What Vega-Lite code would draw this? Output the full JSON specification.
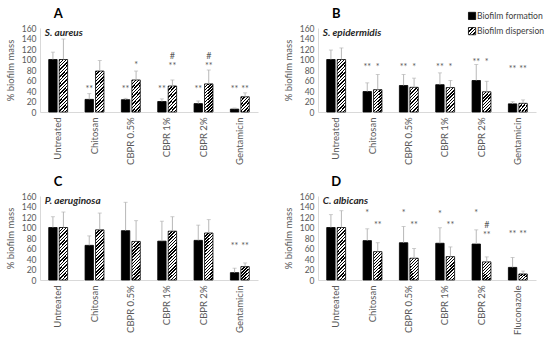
{
  "$schema": "https://vega.github.io/schema/vega-lite/v6.json",
  "padding": {"top": 6, "left": 5, "right": 5, "bottom": 2},
  "config": {
    "font": "Lato",
    "view": {"stroke": null},
    "header": {"labelPadding": 0, "titlePadding": 0},
    "axis": {"ticks": false, "grid": false, "domainColor": "#d9d9d9", "labelColor": "#595959", "titleColor": "#595959", "labelFont": "Lato", "titleFont": "Lato", "titleFontWeight": "normal"},
    "axisY": {"tickCount": 9, "labelOverlap": false}
  },
  "data": {"values": [
    {"kind": "bar", "panel": "A", "treatment": "Untreated", "series": "Biofilm formation", "mean": 100, "sd": 14},
    {"kind": "bar", "panel": "A", "treatment": "Untreated", "series": "Biofilm dispersion", "mean": 100, "sd": 39},
    {"kind": "bar", "panel": "A", "treatment": "Chitosan", "series": "Biofilm formation", "mean": 24, "sd": 11},
    {"kind": "bar", "panel": "A", "treatment": "Chitosan", "series": "Biofilm dispersion", "mean": 78, "sd": 20},
    {"kind": "bar", "panel": "A", "treatment": "CBPR 0.5%", "series": "Biofilm formation", "mean": 23.5, "sd": 2.5},
    {"kind": "bar", "panel": "A", "treatment": "CBPR 0.5%", "series": "Biofilm dispersion", "mean": 61, "sd": 17},
    {"kind": "bar", "panel": "A", "treatment": "CBPR 1%", "series": "Biofilm formation", "mean": 20, "sd": 5},
    {"kind": "bar", "panel": "A", "treatment": "CBPR 1%", "series": "Biofilm dispersion", "mean": 49.5, "sd": 11.5},
    {"kind": "bar", "panel": "A", "treatment": "CBPR 2%", "series": "Biofilm formation", "mean": 16, "sd": 5},
    {"kind": "bar", "panel": "A", "treatment": "CBPR 2%", "series": "Biofilm dispersion", "mean": 53.5, "sd": 26.5},
    {"kind": "bar", "panel": "A", "treatment": "Gentamicin", "series": "Biofilm formation", "mean": 5.5, "sd": 2},
    {"kind": "bar", "panel": "A", "treatment": "Gentamicin", "series": "Biofilm dispersion", "mean": 29, "sd": 7.5},
    {"kind": "bar", "panel": "B", "treatment": "Untreated", "series": "Biofilm formation", "mean": 100, "sd": 18},
    {"kind": "bar", "panel": "B", "treatment": "Untreated", "series": "Biofilm dispersion", "mean": 100, "sd": 22},
    {"kind": "bar", "panel": "B", "treatment": "Chitosan", "series": "Biofilm formation", "mean": 39, "sd": 16.5},
    {"kind": "bar", "panel": "B", "treatment": "Chitosan", "series": "Biofilm dispersion", "mean": 42.5, "sd": 29},
    {"kind": "bar", "panel": "B", "treatment": "CBPR 0.5%", "series": "Biofilm formation", "mean": 50.5, "sd": 21},
    {"kind": "bar", "panel": "B", "treatment": "CBPR 0.5%", "series": "Biofilm dispersion", "mean": 47, "sd": 17.5},
    {"kind": "bar", "panel": "B", "treatment": "CBPR 1%", "series": "Biofilm formation", "mean": 52, "sd": 22.5},
    {"kind": "bar", "panel": "B", "treatment": "CBPR 1%", "series": "Biofilm dispersion", "mean": 46.5, "sd": 13.5},
    {"kind": "bar", "panel": "B", "treatment": "CBPR 2%", "series": "Biofilm formation", "mean": 60, "sd": 30.5},
    {"kind": "bar", "panel": "B", "treatment": "CBPR 2%", "series": "Biofilm dispersion", "mean": 38.5, "sd": 20},
    {"kind": "bar", "panel": "B", "treatment": "Gentamicin", "series": "Biofilm formation", "mean": 15.5, "sd": 4},
    {"kind": "bar", "panel": "B", "treatment": "Gentamicin", "series": "Biofilm dispersion", "mean": 16.5, "sd": 6.5},
    {"kind": "bar", "panel": "C", "treatment": "Untreated", "series": "Biofilm formation", "mean": 100, "sd": 20.5},
    {"kind": "bar", "panel": "C", "treatment": "Untreated", "series": "Biofilm dispersion", "mean": 100, "sd": 29.5},
    {"kind": "bar", "panel": "C", "treatment": "Chitosan", "series": "Biofilm formation", "mean": 66, "sd": 18},
    {"kind": "bar", "panel": "C", "treatment": "Chitosan", "series": "Biofilm dispersion", "mean": 95.5, "sd": 32},
    {"kind": "bar", "panel": "C", "treatment": "CBPR 0.5%", "series": "Biofilm formation", "mean": 94, "sd": 54},
    {"kind": "bar", "panel": "C", "treatment": "CBPR 0.5%", "series": "Biofilm dispersion", "mean": 73.5, "sd": 39.5},
    {"kind": "bar", "panel": "C", "treatment": "CBPR 1%", "series": "Biofilm formation", "mean": 74, "sd": 38},
    {"kind": "bar", "panel": "C", "treatment": "CBPR 1%", "series": "Biofilm dispersion", "mean": 93, "sd": 27.5},
    {"kind": "bar", "panel": "C", "treatment": "CBPR 2%", "series": "Biofilm formation", "mean": 75.5, "sd": 29},
    {"kind": "bar", "panel": "C", "treatment": "CBPR 2%", "series": "Biofilm dispersion", "mean": 89.5, "sd": 25.5},
    {"kind": "bar", "panel": "C", "treatment": "Gentamicin", "series": "Biofilm formation", "mean": 14, "sd": 8.5},
    {"kind": "bar", "panel": "C", "treatment": "Gentamicin", "series": "Biofilm dispersion", "mean": 25.5, "sd": 7},
    {"kind": "bar", "panel": "D", "treatment": "Untreated", "series": "Biofilm formation", "mean": 100, "sd": 24.5},
    {"kind": "bar", "panel": "D", "treatment": "Untreated", "series": "Biofilm dispersion", "mean": 100, "sd": 32},
    {"kind": "bar", "panel": "D", "treatment": "Chitosan", "series": "Biofilm formation", "mean": 75, "sd": 22.5},
    {"kind": "bar", "panel": "D", "treatment": "Chitosan", "series": "Biofilm dispersion", "mean": 54, "sd": 17},
    {"kind": "bar", "panel": "D", "treatment": "CBPR 0.5%", "series": "Biofilm formation", "mean": 71, "sd": 31},
    {"kind": "bar", "panel": "D", "treatment": "CBPR 0.5%", "series": "Biofilm dispersion", "mean": 41.5, "sd": 18.5},
    {"kind": "bar", "panel": "D", "treatment": "CBPR 1%", "series": "Biofilm formation", "mean": 70, "sd": 29.5},
    {"kind": "bar", "panel": "D", "treatment": "CBPR 1%", "series": "Biofilm dispersion", "mean": 44.5, "sd": 18.5},
    {"kind": "bar", "panel": "D", "treatment": "CBPR 2%", "series": "Biofilm formation", "mean": 68.5, "sd": 27},
    {"kind": "bar", "panel": "D", "treatment": "CBPR 2%", "series": "Biofilm dispersion", "mean": 34.5, "sd": 9.5},
    {"kind": "bar", "panel": "D", "treatment": "Fluconazole", "series": "Biofilm formation", "mean": 24, "sd": 19},
    {"kind": "bar", "panel": "D", "treatment": "Fluconazole", "series": "Biofilm dispersion", "mean": 11.5, "sd": 5.5},
    {"kind": "note", "panel": "A", "treatment": "Chitosan", "series": "Biofilm formation", "label": "**", "at": 48},
    {"kind": "note", "panel": "A", "treatment": "CBPR 0.5%", "series": "Biofilm formation", "label": "**", "at": 48},
    {"kind": "note", "panel": "A", "treatment": "CBPR 0.5%", "series": "Biofilm dispersion", "label": "*", "at": 93},
    {"kind": "note", "panel": "A", "treatment": "CBPR 1%", "series": "Biofilm formation", "label": "**", "at": 48},
    {"kind": "note", "panel": "A", "treatment": "CBPR 1%", "series": "Biofilm dispersion", "label": "**", "at": 92},
    {"kind": "note", "panel": "A", "treatment": "CBPR 1%", "series": "Biofilm dispersion", "label": "#", "at": 111},
    {"kind": "note", "panel": "A", "treatment": "CBPR 2%", "series": "Biofilm formation", "label": "**", "at": 48},
    {"kind": "note", "panel": "A", "treatment": "CBPR 2%", "series": "Biofilm dispersion", "label": "**", "at": 92},
    {"kind": "note", "panel": "A", "treatment": "CBPR 2%", "series": "Biofilm dispersion", "label": "#", "at": 111},
    {"kind": "note", "panel": "A", "treatment": "Gentamicin", "series": "Biofilm formation", "label": "**", "at": 48},
    {"kind": "note", "panel": "A", "treatment": "Gentamicin", "series": "Biofilm dispersion", "label": "**", "at": 48},
    {"kind": "note", "panel": "B", "treatment": "Chitosan", "series": "Biofilm formation", "label": "**", "at": 90},
    {"kind": "note", "panel": "B", "treatment": "Chitosan", "series": "Biofilm dispersion", "label": "*", "at": 90},
    {"kind": "note", "panel": "B", "treatment": "CBPR 0.5%", "series": "Biofilm formation", "label": "**", "at": 90},
    {"kind": "note", "panel": "B", "treatment": "CBPR 0.5%", "series": "Biofilm dispersion", "label": "*", "at": 90},
    {"kind": "note", "panel": "B", "treatment": "CBPR 1%", "series": "Biofilm formation", "label": "**", "at": 90},
    {"kind": "note", "panel": "B", "treatment": "CBPR 1%", "series": "Biofilm dispersion", "label": "*", "at": 90},
    {"kind": "note", "panel": "B", "treatment": "CBPR 2%", "series": "Biofilm formation", "label": "**", "at": 99},
    {"kind": "note", "panel": "B", "treatment": "CBPR 2%", "series": "Biofilm dispersion", "label": "*", "at": 99},
    {"kind": "note", "panel": "B", "treatment": "Gentamicin", "series": "Biofilm formation", "label": "**", "at": 85},
    {"kind": "note", "panel": "B", "treatment": "Gentamicin", "series": "Biofilm dispersion", "label": "**", "at": 85},
    {"kind": "note", "panel": "C", "treatment": "Gentamicin", "series": "Biofilm formation", "label": "**", "at": 69},
    {"kind": "note", "panel": "C", "treatment": "Gentamicin", "series": "Biofilm dispersion", "label": "**", "at": 69},
    {"kind": "note", "panel": "D", "treatment": "Chitosan", "series": "Biofilm formation", "label": "*", "at": 132},
    {"kind": "note", "panel": "D", "treatment": "Chitosan", "series": "Biofilm dispersion", "label": "**", "at": 108},
    {"kind": "note", "panel": "D", "treatment": "CBPR 0.5%", "series": "Biofilm formation", "label": "*", "at": 131},
    {"kind": "note", "panel": "D", "treatment": "CBPR 0.5%", "series": "Biofilm dispersion", "label": "**", "at": 108},
    {"kind": "note", "panel": "D", "treatment": "CBPR 1%", "series": "Biofilm formation", "label": "*", "at": 130},
    {"kind": "note", "panel": "D", "treatment": "CBPR 1%", "series": "Biofilm dispersion", "label": "**", "at": 108},
    {"kind": "note", "panel": "D", "treatment": "CBPR 2%", "series": "Biofilm formation", "label": "*", "at": 131},
    {"kind": "note", "panel": "D", "treatment": "CBPR 2%", "series": "Biofilm dispersion", "label": "#", "at": 109},
    {"kind": "note", "panel": "D", "treatment": "CBPR 2%", "series": "Biofilm dispersion", "label": "**", "at": 90},
    {"kind": "note", "panel": "D", "treatment": "Fluconazole", "series": "Biofilm formation", "label": "**", "at": 91},
    {"kind": "note", "panel": "D", "treatment": "Fluconazole", "series": "Biofilm dispersion", "label": "**", "at": 91},
    {"kind": "species", "panel": "A", "treatment": "Untreated", "text": "S. aureus"},
    {"kind": "species", "panel": "B", "treatment": "Untreated", "text": "S. epidermidis"},
    {"kind": "species", "panel": "C", "treatment": "Untreated", "text": "P. aeruginosa"},
    {"kind": "species", "panel": "D", "treatment": "Untreated", "text": "C. albicans"},
    {"kind": "letter", "panel": "A", "treatment": "Untreated", "text": "A"},
    {"kind": "letter", "panel": "B", "treatment": "Untreated", "text": "B"},
    {"kind": "letter", "panel": "C", "treatment": "Untreated", "text": "C"},
    {"kind": "letter", "panel": "D", "treatment": "Untreated", "text": "D"},
    {"kind": "key", "panel": "B", "treatment": "CBPR 2%", "series": "Biofilm formation"},
    {"kind": "key", "panel": "B", "treatment": "CBPR 2%", "series": "Biofilm dispersion"}
  ]},
  "facet": {"field": "panel", "type": "nominal", "header": {"title": null, "labelExpr": "''", "labelFontSize": 1, "labelPadding": 0, "labelColor": "transparent"}},
  "columns": 2,
  "spacing": {"row": 9, "column": 25},
  "resolve": {"scale": {"x": "independent", "xOffset": "independent"}, "axis": {"x": "independent", "y": "independent"}},
  "spec": {
    "width": 218,
    "height": 84,
    "layer": [
      {
        "transform": [{"filter": "datum.kind === 'bar'"}],
        "mark": {"type": "bar", "stroke": "#000000", "strokeWidth": 0.8},
        "encoding": {
          "x": {"field": "treatment", "type": "nominal", "sort": null, "scale": {"paddingInner": 0.48, "paddingOuter": 0.24}, "axis": {"title": null, "labelAngle": -90, "labelFontSize": 9.5, "labelPadding": 5}},
          "xOffset": {"field": "series", "type": "nominal", "sort": null, "scale": {"paddingInner": 0.2, "paddingOuter": 0}},
          "y": {"field": "mean", "type": "quantitative", "scale": {"domain": [0, 160], "nice": false}, "axis": {"values": [0, 20, 40, 60, 80, 100, 120, 140, 160], "tickCount": 9, "labelOverlap": false, "title": "% biofilm mass", "labelFontSize": 8.5, "titleFontSize": 9.5, "labelPadding": 4, "titlePadding": 6}},
          "fill": {
            "condition": [
              {"test": "datum.series === 'Biofilm dispersion' && datum.mean < 21", "value": {"gradient": "linear", "x1": 0, "y1": 0, "x2": 1.082, "y2": 0.902, "stops": [
                {"offset": 0, "color": "#000"}, {"offset": 0.09, "color": "#000"}, {"offset": 0.09, "color": "#fff"}, {"offset": 0.2, "color": "#fff"},
                {"offset": 0.2, "color": "#000"}, {"offset": 0.29, "color": "#000"}, {"offset": 0.29, "color": "#fff"}, {"offset": 0.4, "color": "#fff"},
                {"offset": 0.4, "color": "#000"}, {"offset": 0.49, "color": "#000"}, {"offset": 0.49, "color": "#fff"}, {"offset": 0.6, "color": "#fff"},
                {"offset": 0.6, "color": "#000"}, {"offset": 0.69, "color": "#000"}, {"offset": 0.69, "color": "#fff"}, {"offset": 0.8, "color": "#fff"},
                {"offset": 0.8, "color": "#000"}, {"offset": 0.89, "color": "#000"}, {"offset": 0.89, "color": "#fff"}, {"offset": 1, "color": "#fff"}
              ]}},
              {"test": "datum.series === 'Biofilm dispersion' && datum.mean < 32", "value": {"gradient": "linear", "x1": 0, "y1": 0, "x2": 0.706, "y2": 1.176, "stops": [
                {"offset": 0, "color": "#000"}, {"offset": 0.0643, "color": "#000"}, {"offset": 0.0643, "color": "#fff"}, {"offset": 0.1429, "color": "#fff"},
                {"offset": 0.1429, "color": "#000"}, {"offset": 0.2071, "color": "#000"}, {"offset": 0.2071, "color": "#fff"}, {"offset": 0.2857, "color": "#fff"},
                {"offset": 0.2857, "color": "#000"}, {"offset": 0.35, "color": "#000"}, {"offset": 0.35, "color": "#fff"}, {"offset": 0.4286, "color": "#fff"},
                {"offset": 0.4286, "color": "#000"}, {"offset": 0.4929, "color": "#000"}, {"offset": 0.4929, "color": "#fff"}, {"offset": 0.5714, "color": "#fff"},
                {"offset": 0.5714, "color": "#000"}, {"offset": 0.6357, "color": "#000"}, {"offset": 0.6357, "color": "#fff"}, {"offset": 0.7143, "color": "#fff"},
                {"offset": 0.7143, "color": "#000"}, {"offset": 0.7786, "color": "#000"}, {"offset": 0.7786, "color": "#fff"}, {"offset": 0.8571, "color": "#fff"},
                {"offset": 0.8571, "color": "#000"}, {"offset": 0.9214, "color": "#000"}, {"offset": 0.9214, "color": "#fff"}, {"offset": 1, "color": "#fff"}
              ]}},
              {"test": "datum.series === 'Biofilm dispersion' && datum.mean < 41", "value": {"gradient": "linear", "x1": 0, "y1": 0, "x2": 0.52, "y2": 1.207, "stops": [
                {"offset": 0, "color": "#000"}, {"offset": 0.05, "color": "#000"}, {"offset": 0.05, "color": "#fff"}, {"offset": 0.1111, "color": "#fff"},
                {"offset": 0.1111, "color": "#000"}, {"offset": 0.1611, "color": "#000"}, {"offset": 0.1611, "color": "#fff"}, {"offset": 0.2222, "color": "#fff"},
                {"offset": 0.2222, "color": "#000"}, {"offset": 0.2722, "color": "#000"}, {"offset": 0.2722, "color": "#fff"}, {"offset": 0.3333, "color": "#fff"},
                {"offset": 0.3333, "color": "#000"}, {"offset": 0.3833, "color": "#000"}, {"offset": 0.3833, "color": "#fff"}, {"offset": 0.4444, "color": "#fff"},
                {"offset": 0.4444, "color": "#000"}, {"offset": 0.4944, "color": "#000"}, {"offset": 0.4944, "color": "#fff"}, {"offset": 0.5556, "color": "#fff"},
                {"offset": 0.5556, "color": "#000"}, {"offset": 0.6056, "color": "#000"}, {"offset": 0.6056, "color": "#fff"}, {"offset": 0.6667, "color": "#fff"},
                {"offset": 0.6667, "color": "#000"}, {"offset": 0.7167, "color": "#000"}, {"offset": 0.7167, "color": "#fff"}, {"offset": 0.7778, "color": "#fff"},
                {"offset": 0.7778, "color": "#000"}, {"offset": 0.8278, "color": "#000"}, {"offset": 0.8278, "color": "#fff"}, {"offset": 0.8889, "color": "#fff"},
                {"offset": 0.8889, "color": "#000"}, {"offset": 0.9389, "color": "#000"}, {"offset": 0.9389, "color": "#fff"}, {"offset": 1, "color": "#fff"}
              ]}},
              {"test": "datum.series === 'Biofilm dispersion' && datum.mean < 50.5", "value": {"gradient": "linear", "x1": 0, "y1": 0, "x2": 0.421, "y2": 1.203, "stops": [
                {"offset": 0, "color": "#000"}, {"offset": 0.045, "color": "#000"}, {"offset": 0.045, "color": "#fff"}, {"offset": 0.1, "color": "#fff"},
                {"offset": 0.1, "color": "#000"}, {"offset": 0.145, "color": "#000"}, {"offset": 0.145, "color": "#fff"}, {"offset": 0.2, "color": "#fff"},
                {"offset": 0.2, "color": "#000"}, {"offset": 0.245, "color": "#000"}, {"offset": 0.245, "color": "#fff"}, {"offset": 0.3, "color": "#fff"},
                {"offset": 0.3, "color": "#000"}, {"offset": 0.345, "color": "#000"}, {"offset": 0.345, "color": "#fff"}, {"offset": 0.4, "color": "#fff"},
                {"offset": 0.4, "color": "#000"}, {"offset": 0.445, "color": "#000"}, {"offset": 0.445, "color": "#fff"}, {"offset": 0.5, "color": "#fff"},
                {"offset": 0.5, "color": "#000"}, {"offset": 0.545, "color": "#000"}, {"offset": 0.545, "color": "#fff"}, {"offset": 0.6, "color": "#fff"},
                {"offset": 0.6, "color": "#000"}, {"offset": 0.645, "color": "#000"}, {"offset": 0.645, "color": "#fff"}, {"offset": 0.7, "color": "#fff"},
                {"offset": 0.7, "color": "#000"}, {"offset": 0.745, "color": "#000"}, {"offset": 0.745, "color": "#fff"}, {"offset": 0.8, "color": "#fff"},
                {"offset": 0.8, "color": "#000"}, {"offset": 0.845, "color": "#000"}, {"offset": 0.845, "color": "#fff"}, {"offset": 0.9, "color": "#fff"},
                {"offset": 0.9, "color": "#000"}, {"offset": 0.945, "color": "#000"}, {"offset": 0.945, "color": "#fff"}, {"offset": 1, "color": "#fff"}
              ]}},
              {"test": "datum.series === 'Biofilm dispersion' && datum.mean < 67", "value": {"gradient": "linear", "x1": 0, "y1": 0, "x2": 0.338, "y2": 1.188, "stops": [
                {"offset": 0, "color": "#000"}, {"offset": 0.0375, "color": "#000"}, {"offset": 0.0375, "color": "#fff"}, {"offset": 0.0833, "color": "#fff"},
                {"offset": 0.0833, "color": "#000"}, {"offset": 0.1208, "color": "#000"}, {"offset": 0.1208, "color": "#fff"}, {"offset": 0.1667, "color": "#fff"},
                {"offset": 0.1667, "color": "#000"}, {"offset": 0.2042, "color": "#000"}, {"offset": 0.2042, "color": "#fff"}, {"offset": 0.25, "color": "#fff"},
                {"offset": 0.25, "color": "#000"}, {"offset": 0.2875, "color": "#000"}, {"offset": 0.2875, "color": "#fff"}, {"offset": 0.3333, "color": "#fff"},
                {"offset": 0.3333, "color": "#000"}, {"offset": 0.3708, "color": "#000"}, {"offset": 0.3708, "color": "#fff"}, {"offset": 0.4167, "color": "#fff"},
                {"offset": 0.4167, "color": "#000"}, {"offset": 0.4542, "color": "#000"}, {"offset": 0.4542, "color": "#fff"}, {"offset": 0.5, "color": "#fff"},
                {"offset": 0.5, "color": "#000"}, {"offset": 0.5375, "color": "#000"}, {"offset": 0.5375, "color": "#fff"}, {"offset": 0.5833, "color": "#fff"},
                {"offset": 0.5833, "color": "#000"}, {"offset": 0.6208, "color": "#000"}, {"offset": 0.6208, "color": "#fff"}, {"offset": 0.6667, "color": "#fff"},
                {"offset": 0.6667, "color": "#000"}, {"offset": 0.7042, "color": "#000"}, {"offset": 0.7042, "color": "#fff"}, {"offset": 0.75, "color": "#fff"},
                {"offset": 0.75, "color": "#000"}, {"offset": 0.7875, "color": "#000"}, {"offset": 0.7875, "color": "#fff"}, {"offset": 0.8333, "color": "#fff"},
                {"offset": 0.8333, "color": "#000"}, {"offset": 0.8708, "color": "#000"}, {"offset": 0.8708, "color": "#fff"}, {"offset": 0.9167, "color": "#fff"},
                {"offset": 0.9167, "color": "#000"}, {"offset": 0.9542, "color": "#000"}, {"offset": 0.9542, "color": "#fff"}, {"offset": 1, "color": "#fff"}
              ]}},
              {"test": "datum.series === 'Biofilm dispersion' && datum.mean < 86", "value": {"gradient": "linear", "x1": 0, "y1": 0, "x2": 0.2434, "y2": 1.159, "stops": [
                {"offset": 0, "color": "#000"}, {"offset": 0.03, "color": "#000"}, {"offset": 0.03, "color": "#fff"}, {"offset": 0.0667, "color": "#fff"},
                {"offset": 0.0667, "color": "#000"}, {"offset": 0.0967, "color": "#000"}, {"offset": 0.0967, "color": "#fff"}, {"offset": 0.1333, "color": "#fff"},
                {"offset": 0.1333, "color": "#000"}, {"offset": 0.1633, "color": "#000"}, {"offset": 0.1633, "color": "#fff"}, {"offset": 0.2, "color": "#fff"},
                {"offset": 0.2, "color": "#000"}, {"offset": 0.23, "color": "#000"}, {"offset": 0.23, "color": "#fff"}, {"offset": 0.2667, "color": "#fff"},
                {"offset": 0.2667, "color": "#000"}, {"offset": 0.2967, "color": "#000"}, {"offset": 0.2967, "color": "#fff"}, {"offset": 0.3333, "color": "#fff"},
                {"offset": 0.3333, "color": "#000"}, {"offset": 0.3633, "color": "#000"}, {"offset": 0.3633, "color": "#fff"}, {"offset": 0.4, "color": "#fff"},
                {"offset": 0.4, "color": "#000"}, {"offset": 0.43, "color": "#000"}, {"offset": 0.43, "color": "#fff"}, {"offset": 0.4667, "color": "#fff"},
                {"offset": 0.4667, "color": "#000"}, {"offset": 0.4967, "color": "#000"}, {"offset": 0.4967, "color": "#fff"}, {"offset": 0.5333, "color": "#fff"},
                {"offset": 0.5333, "color": "#000"}, {"offset": 0.5633, "color": "#000"}, {"offset": 0.5633, "color": "#fff"}, {"offset": 0.6, "color": "#fff"},
                {"offset": 0.6, "color": "#000"}, {"offset": 0.63, "color": "#000"}, {"offset": 0.63, "color": "#fff"}, {"offset": 0.6667, "color": "#fff"},
                {"offset": 0.6667, "color": "#000"}, {"offset": 0.6967, "color": "#000"}, {"offset": 0.6967, "color": "#fff"}, {"offset": 0.7333, "color": "#fff"},
                {"offset": 0.7333, "color": "#000"}, {"offset": 0.7633, "color": "#000"}, {"offset": 0.7633, "color": "#fff"}, {"offset": 0.8, "color": "#fff"},
                {"offset": 0.8, "color": "#000"}, {"offset": 0.83, "color": "#000"}, {"offset": 0.83, "color": "#fff"}, {"offset": 0.8667, "color": "#fff"},
                {"offset": 0.8667, "color": "#000"}, {"offset": 0.8967, "color": "#000"}, {"offset": 0.8967, "color": "#fff"}, {"offset": 0.9333, "color": "#fff"},
                {"offset": 0.9333, "color": "#000"}, {"offset": 0.9633, "color": "#000"}, {"offset": 0.9633, "color": "#fff"}, {"offset": 1, "color": "#fff"}
              ]}},
              {"test": "datum.series === 'Biofilm dispersion'", "value": {"gradient": "linear", "x1": 0, "y1": 0, "x2": 0.1908, "y2": 1.136, "stops": [
                {"offset": 0, "color": "#000"}, {"offset": 0.025, "color": "#000"}, {"offset": 0.025, "color": "#fff"}, {"offset": 0.0556, "color": "#fff"},
                {"offset": 0.0556, "color": "#000"}, {"offset": 0.0806, "color": "#000"}, {"offset": 0.0806, "color": "#fff"}, {"offset": 0.1111, "color": "#fff"},
                {"offset": 0.1111, "color": "#000"}, {"offset": 0.1361, "color": "#000"}, {"offset": 0.1361, "color": "#fff"}, {"offset": 0.1667, "color": "#fff"},
                {"offset": 0.1667, "color": "#000"}, {"offset": 0.1917, "color": "#000"}, {"offset": 0.1917, "color": "#fff"}, {"offset": 0.2222, "color": "#fff"},
                {"offset": 0.2222, "color": "#000"}, {"offset": 0.2472, "color": "#000"}, {"offset": 0.2472, "color": "#fff"}, {"offset": 0.2778, "color": "#fff"},
                {"offset": 0.2778, "color": "#000"}, {"offset": 0.3028, "color": "#000"}, {"offset": 0.3028, "color": "#fff"}, {"offset": 0.3333, "color": "#fff"},
                {"offset": 0.3333, "color": "#000"}, {"offset": 0.3583, "color": "#000"}, {"offset": 0.3583, "color": "#fff"}, {"offset": 0.3889, "color": "#fff"},
                {"offset": 0.3889, "color": "#000"}, {"offset": 0.4139, "color": "#000"}, {"offset": 0.4139, "color": "#fff"}, {"offset": 0.4444, "color": "#fff"},
                {"offset": 0.4444, "color": "#000"}, {"offset": 0.4694, "color": "#000"}, {"offset": 0.4694, "color": "#fff"}, {"offset": 0.5, "color": "#fff"},
                {"offset": 0.5, "color": "#000"}, {"offset": 0.525, "color": "#000"}, {"offset": 0.525, "color": "#fff"}, {"offset": 0.5556, "color": "#fff"},
                {"offset": 0.5556, "color": "#000"}, {"offset": 0.5806, "color": "#000"}, {"offset": 0.5806, "color": "#fff"}, {"offset": 0.6111, "color": "#fff"},
                {"offset": 0.6111, "color": "#000"}, {"offset": 0.6361, "color": "#000"}, {"offset": 0.6361, "color": "#fff"}, {"offset": 0.6667, "color": "#fff"},
                {"offset": 0.6667, "color": "#000"}, {"offset": 0.6917, "color": "#000"}, {"offset": 0.6917, "color": "#fff"}, {"offset": 0.7222, "color": "#fff"},
                {"offset": 0.7222, "color": "#000"}, {"offset": 0.7472, "color": "#000"}, {"offset": 0.7472, "color": "#fff"}, {"offset": 0.7778, "color": "#fff"},
                {"offset": 0.7778, "color": "#000"}, {"offset": 0.8028, "color": "#000"}, {"offset": 0.8028, "color": "#fff"}, {"offset": 0.8333, "color": "#fff"},
                {"offset": 0.8333, "color": "#000"}, {"offset": 0.8583, "color": "#000"}, {"offset": 0.8583, "color": "#fff"}, {"offset": 0.8889, "color": "#fff"},
                {"offset": 0.8889, "color": "#000"}, {"offset": 0.9139, "color": "#000"}, {"offset": 0.9139, "color": "#fff"}, {"offset": 0.9444, "color": "#fff"},
                {"offset": 0.9444, "color": "#000"}, {"offset": 0.9694, "color": "#000"}, {"offset": 0.9694, "color": "#fff"}, {"offset": 1, "color": "#fff"}
              ]}}
            ],
            "value": "#000000"
          }
        }
      },
      {
        "transform": [{"filter": "datum.kind === 'bar'"}, {"calculate": "datum.mean + datum.sd", "as": "hi"}],
        "mark": {"type": "rule", "color": "#b0b0b0", "strokeWidth": 0.9},
        "encoding": {
          "x": {"field": "treatment", "type": "nominal", "sort": null},
          "xOffset": {"field": "series", "type": "nominal", "sort": null},
          "y": {"field": "mean", "type": "quantitative"},
          "y2": {"field": "hi"}
        }
      },
      {
        "transform": [{"filter": "datum.kind === 'bar'"}, {"calculate": "datum.mean + datum.sd", "as": "hi"}],
        "mark": {"type": "tick", "color": "#b0b0b0", "thickness": 0.9, "size": 4},
        "encoding": {
          "x": {"field": "treatment", "type": "nominal", "sort": null},
          "xOffset": {"field": "series", "type": "nominal", "sort": null},
          "y": {"field": "hi", "type": "quantitative"}
        }
      },
      {
        "transform": [{"filter": "datum.kind === 'note'"}],
        "mark": {"type": "text", "fontSize": 9, "color": "#595959", "baseline": "middle", "dy": 2},
        "encoding": {
          "x": {"field": "treatment", "type": "nominal", "sort": null},
          "xOffset": {"field": "series", "type": "nominal", "sort": null},
          "y": {"field": "at", "type": "quantitative"},
          "text": {"field": "label"}
        }
      },
      {
        "transform": [{"filter": "datum.kind === 'species'"}],
        "mark": {"type": "text", "fontSize": 10, "fontWeight": "bold", "fontStyle": "italic", "align": "left", "baseline": "middle", "dx": -4, "color": "#262626"},
        "encoding": {
          "x": {"field": "treatment", "type": "nominal", "sort": null, "bandPosition": 0},
          "y": {"datum": 151},
          "text": {"field": "text"}
        }
      },
      {
        "transform": [{"filter": "datum.kind === 'letter'"}],
        "mark": {"type": "text", "fontSize": 13, "fontWeight": "bold", "baseline": "middle", "color": "#000000"},
        "encoding": {
          "x": {"field": "treatment", "type": "nominal", "sort": null},
          "y": {"datum": 187},
          "text": {"field": "text"}
        }
      },
      {
        "transform": [{"filter": "datum.kind === 'key' && datum.series === 'Biofilm formation'"}],
        "mark": {"type": "square", "size": 52, "opacity": 1, "fill": "#000000", "stroke": "#000000", "strokeWidth": 0.8},
        "encoding": {
          "x": {"field": "treatment", "type": "nominal", "sort": null, "bandPosition": 0},
          "y": {"datum": 183}
        }
      },
      {
        "transform": [{"filter": "datum.kind === 'key' && datum.series === 'Biofilm dispersion'"}],
        "mark": {"type": "square", "size": 52, "opacity": 1, "stroke": "#000000", "strokeWidth": 0.8, "fill": {"gradient": "linear", "x1": 0, "y1": 0, "x2": 1, "y2": 1, "stops": [
          {"offset": 0, "color": "#000"}, {"offset": 0.1125, "color": "#000"}, {"offset": 0.1125, "color": "#fff"}, {"offset": 0.25, "color": "#fff"},
          {"offset": 0.25, "color": "#000"}, {"offset": 0.3625, "color": "#000"}, {"offset": 0.3625, "color": "#fff"}, {"offset": 0.5, "color": "#fff"},
          {"offset": 0.5, "color": "#000"}, {"offset": 0.6125, "color": "#000"}, {"offset": 0.6125, "color": "#fff"}, {"offset": 0.75, "color": "#fff"},
          {"offset": 0.75, "color": "#000"}, {"offset": 0.8625, "color": "#000"}, {"offset": 0.8625, "color": "#fff"}, {"offset": 1, "color": "#fff"}
        ]}},
        "encoding": {
          "x": {"field": "treatment", "type": "nominal", "sort": null, "bandPosition": 0},
          "y": {"datum": 154}
        }
      },
      {
        "transform": [{"filter": "datum.kind === 'key' && datum.series === 'Biofilm formation'"}],
        "mark": {"type": "text", "align": "left", "baseline": "middle", "dx": 5, "fontSize": 8.6, "color": "#404040"},
        "encoding": {
          "x": {"field": "treatment", "type": "nominal", "sort": null, "bandPosition": 0},
          "y": {"datum": 183},
          "text": {"field": "series"}
        }
      },
      {
        "transform": [{"filter": "datum.kind === 'key' && datum.series === 'Biofilm dispersion'"}],
        "mark": {"type": "text", "align": "left", "baseline": "middle", "dx": 5, "fontSize": 8.6, "color": "#404040"},
        "encoding": {
          "x": {"field": "treatment", "type": "nominal", "sort": null, "bandPosition": 0},
          "y": {"datum": 154},
          "text": {"field": "series"}
        }
      }
    ]
  }
}
